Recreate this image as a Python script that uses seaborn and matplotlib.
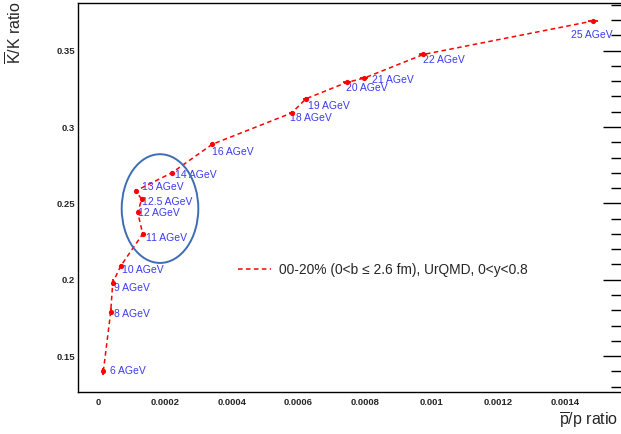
import matplotlib
matplotlib.use("Agg")
import matplotlib.pyplot as plt
from matplotlib.patches import Ellipse
from matplotlib.ticker import MultipleLocator, FixedLocator
import numpy as np
import pandas as pd
import seaborn as sns

# Beam energies (AGeV) and UrQMD antiparticle/particle ratios, 0-20% centrality
energies = ["6", "8", "9", "10", "11", "12", "12.5", "13", "14",
            "16", "18", "19", "20", "21", "22", "25"]
pbar_p = [0.0000153, 0.0000375, 0.0000435, 0.0000675, 0.0001334, 0.0001184,
          0.0001304, 0.0001124, 0.0002213, 0.000342, 0.000580, 0.000623,
          0.000745, 0.000797, 0.000975, 0.001485]
kbar_k = [0.1400, 0.1790, 0.1980, 0.2090, 0.2300, 0.2442, 0.2527, 0.2582,
          0.2701, 0.2887, 0.3092, 0.3185, 0.3292, 0.3320, 0.3475, 0.3695]
pbar_p_err = [0.000002, 0.000003, 0.000003, 0.000003, 0.000003, 0.000003,
              0.000003, 0.000003, 0.000004, 0.000006, 0.000009, 0.000009,
              0.000012, 0.000012, 0.000012, 0.000015]
kbar_k_err = [0.0023, 0.0023, 0.0023, 0.0015, 0.0015, 0.0015, 0.0015, 0.0015,
              0.0012, 0.0010, 0.0010, 0.0010, 0.0008, 0.0008, 0.0008, 0.0008]
# label offsets in pixels (right, down) relative to each point
label_dx = [6.7, 3.6, 1.6, 1.6, 3.3, 0.0, 0.0, 6.0, 3.0, 0.0, -1.7, 2.0, -1.0, 8.0, 0.0, -22.0]
label_dy = [0.0, 2.3, 5.0, 4.0, 4.3, 1.0, 2.4, -3.7, 2.3, 7.4, 5.0, 7.0, 5.4, 2.0, 5.7, 14.3]

legend_label = "00-20% (0<b \u2264 2.6 fm), UrQMD, 0<y<0.8"

df = pd.DataFrame({"energy": energies, "pbar_p": pbar_p, "kbar_k": kbar_k,
                   "xerr": pbar_p_err, "yerr": kbar_k_err})

sns.set_style("white")
plt.rcParams["font.family"] = ["Liberation Sans", "DejaVu Sans"]
plt.rcParams["mathtext.fontset"] = "custom"
plt.rcParams["mathtext.rm"] = "Liberation Sans"
plt.rcParams["mathtext.it"] = "Liberation Sans:italic"
plt.rcParams["mathtext.bf"] = "Liberation Sans:bold"

W, H = 621, 434
fig = plt.figure(figsize=(W / 100, H / 100), dpi=100)
ax = fig.add_axes([78 / W, (H - 392) / H, (621 - 78) / W, (392 - 3) / H])

red = "#ff0000"
blue = "#3a3af2"

sns.lineplot(data=df, x="pbar_p", y="kbar_k", sort=False, ax=ax, color=red,
             linestyle=(0, (3.0, 2.2)), linewidth=1.1, label=legend_label,
             estimator=None)
ax.errorbar(df["pbar_p"], df["kbar_k"], xerr=df["xerr"], yerr=df["yerr"],
            fmt="none", ecolor=red, elinewidth=1.3, capsize=0)
sns.scatterplot(data=df, x="pbar_p", y="kbar_k", ax=ax, color=red, s=14,
                linewidth=0, legend=False, zorder=4)

for e, x, y, dx, dy in zip(energies, pbar_p, kbar_k, label_dx, label_dy):
    ax.annotate(f"{e} AGeV", (x, y), xytext=(dx * 0.72, -dy * 0.72),
                textcoords="offset points", ha="left", va="center",
                color=blue, fontsize=7.5)

# highlight the cluster of points between 11 and 13 AGeV
ax.add_patch(Ellipse((0.0001853, 0.2466), 0.0002297, 0.0712, fill=False,
                     edgecolor="#3d6db5", linewidth=1.4, zorder=5))

x_min = -0.0000606
x_max = x_min + (621 - 78) / 333.5 * 0.001
ax.set_xlim(x_min, x_max)
ax.set_ylim(0.1265, 0.3812)

ax.xaxis.set_major_locator(FixedLocator([0, 0.0002, 0.0004, 0.0006, 0.0008,
                                         0.001, 0.0012, 0.0014]))
ax.set_xticklabels(["0", "0.0002", "0.0004", "0.0006", "0.0008", "0.001",
                    "0.0012", "0.0014"])
ax.xaxis.set_minor_locator(MultipleLocator(0.00005))
ax.yaxis.set_major_locator(FixedLocator([0.15, 0.2, 0.25, 0.3, 0.35]))
ax.set_yticklabels(["0.15", "0.2", "0.25", "0.3", "0.35"])
ax.yaxis.set_minor_locator(MultipleLocator(0.01))

ax.tick_params(axis="both", which="both", direction="in", color="black")
ax.tick_params(axis="x", which="major", length=10, width=1.0, labelsize=6.8, pad=4)
ax.tick_params(axis="x", which="minor", length=5, width=1.0)
ax.tick_params(axis="y", which="major", length=13, width=1.0, labelsize=6.8,
               pad=2, right=True)
ax.tick_params(axis="y", which="minor", length=7, width=1.0, right=True)
for lab in ax.get_xticklabels() + ax.get_yticklabels():
    lab.set_fontweight("bold")

for side in ["left", "bottom", "top"]:
    ax.spines[side].set_color("black")
    ax.spines[side].set_linewidth(1.0)
ax.spines["right"].set_visible(False)

ax.set_xlabel("")
ax.set_ylabel("")
fig.text(15 / W, 1 - 1 / H, r"$\mathrm{\overline{K}/K\ ratio}$", rotation=90,
         ha="center", va="top", fontsize=11.5)
fig.text(618 / W, 1 - 421 / H, r"$\mathrm{\overline{p}/p\ ratio}$",
         ha="right", va="center", fontsize=11.5)

leg = ax.legend(loc="center left", bbox_to_anchor=((238 - 78) / 543, (392 - 270) / 389),
                frameon=False, fontsize=9.9, handlelength=2.4, handletextpad=0.58,
                borderpad=0, borderaxespad=0)

fig.savefig("out.png", dpi=100)
